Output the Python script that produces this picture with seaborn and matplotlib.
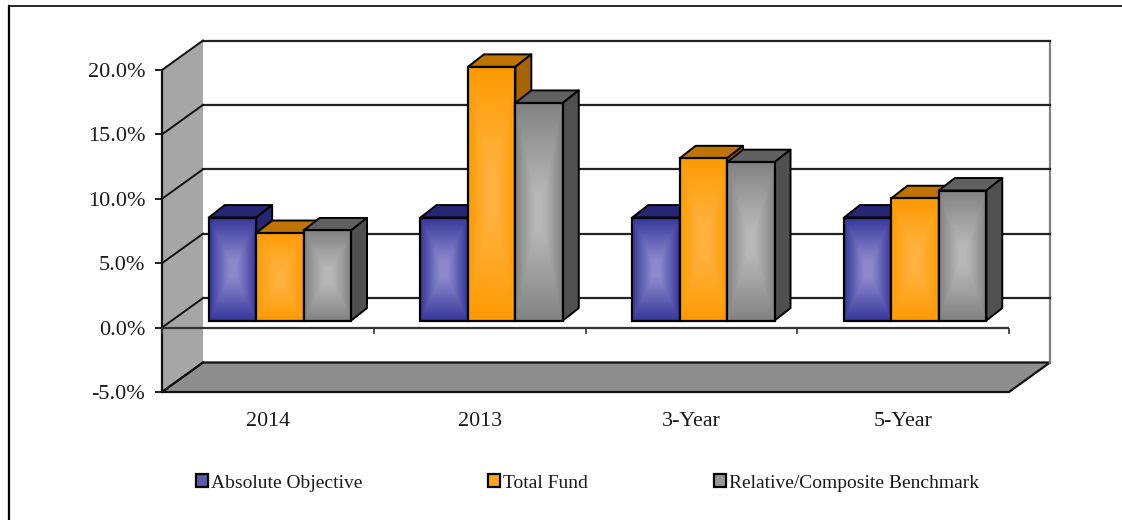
import numpy as np
import pandas as pd
import seaborn as sns
from matplotlib import pyplot as plt
from matplotlib.colors import to_rgb
from matplotlib.lines import Line2D
from matplotlib.patches import Patch, Polygon, Rectangle
from matplotlib.transforms import Affine2D

categories = ['2014', '2013', '3-Year', '5-Year']
series_names = ['Absolute Objective', 'Total Fund', 'Relative/Composite Benchmark']
absolute_objective = [8.0, 8.0, 8.0, 8.0]
total_fund = [6.8, 19.7, 12.6, 9.5]
benchmark = [7.0, 16.9, 12.3, 10.1]
y_ticks = [-5, 0, 5, 10, 15, 20]
y_labels = ['-5.0%', '0.0%', '5.0%', '10.0%', '15.0%', '20.0%']

# edge, centre, top, side
face_colors = {
    'Absolute Objective': ('#333399', '#8C8ACB', '#262673', '#262673'),
    'Total Fund': ('#FF9900', '#FFB340', '#BF7300', '#A86400'),
    'Relative/Composite Benchmark': ('#808080', '#B8B8B8', '#606060', '#505050'),
}
legend_fill = ['#5A5AA8', '#FFA61A', '#969696']
text_color = '#1A1A1A'

df = pd.DataFrame({
    'period': categories * 3,
    'series': np.repeat(series_names, 4),
    'value': absolute_objective + total_fund + benchmark,
})

W, H = 1122, 520
plt.rcParams['font.family'] = ['Liberation Serif', 'DejaVu Serif']
fig = plt.figure(figsize=(W / 100, H / 100), dpi=100, facecolor='white')
ax = fig.add_axes([162 / W, (H - 392) / H, 847 / W, 322 / H])
ax.patch.set_alpha(0)

sns.barplot(data=df, x='period', y='value', hue='series', hue_order=series_names,
            palette=[face_colors[s][0] for s in series_names], width=0.672, gap=0,
            saturation=1, legend=False, ax=ax)

ax.set_xlim(-0.5, 3.5)
ax.set_ylim(-5, 20)
px_x = 847 / 4
px_y = 322 / 25

# depth of the walls and of the bars, in data units
back_dx, back_dy = 41 / px_x, 29.5 / px_y
shift_dx, shift_dy = 12 / px_x, 7 / px_y
bar_dx, bar_dy = 16 / px_x, 12.5 / px_y
x0, x1 = -0.5, 3.5
y0, y1 = -5, 20

# walls
ax.add_patch(Polygon([(x0, y0), (x0, y1), (x0 + back_dx, y1 + back_dy), (x0 + back_dx, y0 + back_dy)],
                     fc='#A6A6A6', ec='none', zorder=0.5, clip_on=False))
ax.add_patch(Polygon([(x0, y0), (x1, y0), (x1 + back_dx, y0 + back_dy), (x0 + back_dx, y0 + back_dy)],
                     fc='#8E8E8E', ec='#111111', lw=1.6, zorder=0.6, clip_on=False))
ax.plot([x1 + back_dx] * 2, [y0 + back_dy, y1 + back_dy], color='#808080', lw=1.6, zorder=0.7, clip_on=False)
ax.plot([x0, x0], [y0, y1], color='#111111', lw=1.6, zorder=1.5, clip_on=False)

# gridlines on the back wall and along the side wall
for t in y_ticks:
    ax.plot([x0, x0 + back_dx], [t, t + back_dy], color='#111111', lw=1.4, zorder=1.5, clip_on=False)
    if t > y0:
        ax.plot([x0 + back_dx, x1 + back_dx], [t + back_dy, t + back_dy], color='#222222', lw=1.6,
                zorder=1, clip_on=False)

# zero axis with ticks between the categories
ax.plot([x0, x1], [0, 0], color='#333333', lw=1.6, zorder=1.6)
ax.vlines(np.arange(5) - 0.5, -0.5, 0, color='#333333', lw=1.2, zorder=1.6, clip_on=False)

# bars: move to the middle of the floor, add depth and the centre gradient
shift = Affine2D().translate(shift_dx, shift_dy) + ax.transData
n_grad = 120
u, v = np.meshgrid(np.linspace(-1, 1, n_grad), np.linspace(-1, 1, n_grad))
grad = np.clip((1 - np.maximum(np.abs(u), np.abs(v))) / 0.85, 0, 1) ** 0.9
bars = sorted([p for p in ax.patches if isinstance(p, Rectangle) and p.get_height() > 0],
              key=lambda p: p.get_x())
colors_by_bar = {}
for cont, name in zip(ax.containers, series_names):
    for p in cont:
        colors_by_bar[id(p)] = face_colors[name]

for i, p in enumerate(bars):
    edge_c, centre_c, top_c, side_c = colors_by_bar[id(p)]
    x, w, h = p.get_x(), p.get_width(), p.get_height()
    z = 3 + i
    ax.add_patch(Polygon([(x, h), (x + w, h), (x + w + bar_dx, h + bar_dy), (x + bar_dx, h + bar_dy)],
                         fc=top_c, ec='black', lw=1.4, joinstyle='round', transform=shift, zorder=z, clip_on=False))
    ax.add_patch(Polygon([(x + w, 0), (x + w, h), (x + w + bar_dx, h + bar_dy), (x + w + bar_dx, bar_dy)],
                         fc=side_c, ec='black', lw=1.4, joinstyle='round', transform=shift, zorder=z, clip_on=False))
    edge_rgb = np.array(to_rgb(edge_c))
    centre_rgb = np.array(to_rgb(centre_c))
    img = edge_rgb + (centre_rgb - edge_rgb) * grad[..., None]
    ax.imshow(img, extent=(x, x + w, 0, h), aspect='auto', origin='lower', transform=shift,
              zorder=z + 0.1, interpolation='bilinear', clip_on=False)
    p.set_transform(shift)
    p.set_facecolor('none')
    p.set_edgecolor('black')
    p.set_linewidth(1.6)
    p.set_zorder(z + 0.2)
    p.set_clip_on(False)

ax.set_xlim(x0, x1)
ax.set_ylim(y0, y1)

ax.set_xlabel('')
ax.set_ylabel('')
ax.set_yticks(y_ticks, y_labels)
ax.tick_params(axis='y', length=5, width=1.3, pad=7, labelsize=16, color='#111111', labelcolor=text_color)
ax.tick_params(axis='x', length=0, pad=14.7, labelsize=15.8, labelcolor=text_color)
for s in ax.spines.values():
    s.set_visible(False)

# legend
handles = [Patch(fc=c, ec='black', lw=1.6) for c in legend_fill]
fig.legend(handles, series_names, loc='center', bbox_to_anchor=(587.5 / W, 1 - 483 / H), ncol=3, frameon=False,
           fontsize=14, labelcolor=text_color, handlelength=0.6, handleheight=0.6, handletextpad=0.15,
           columnspacing=6.5)

# chart frame: only the top and left edges are in the picture
fig.add_artist(Line2D([8.5 / W, 8.5 / W], [0, 1 - 5.5 / H], color='black', lw=1.6))
fig.add_artist(Line2D([8.5 / W, 1], [1 - 5.5 / H, 1 - 5.5 / H], color='black', lw=1.2))

fig.savefig('out.png', dpi=100)
